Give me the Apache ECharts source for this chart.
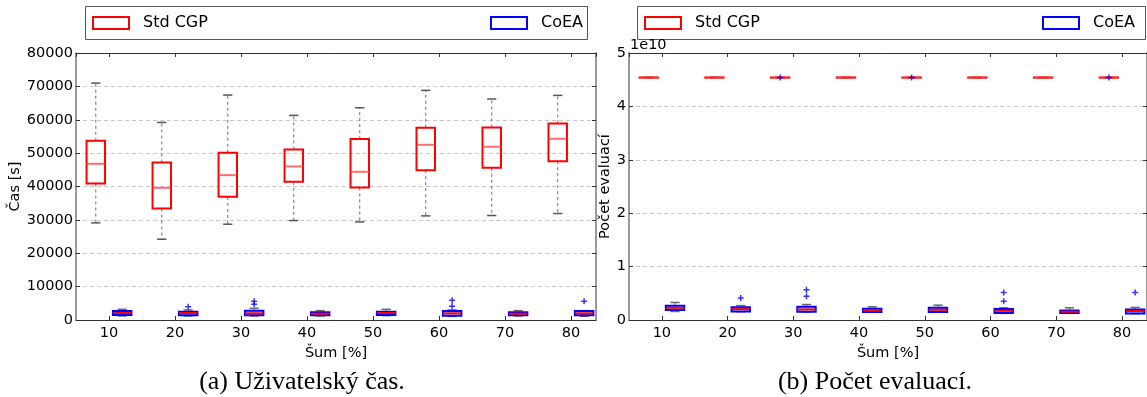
<!DOCTYPE html>
<html>
<head>
<meta charset="utf-8">
<script src="https://cdn.jsdelivr.net/npm/echarts@6/dist/echarts.min.js"></script>
<style>
  html, body { margin: 0; padding: 0; background: #fff; }
  #chart { width: 1147px; height: 397px; }
</style>
</head>
<body>
<div id="chart"></div>
<script>
// Noise levels [%] on the x axis
const noiseLevels = [10, 20, 30, 40, 50, 60, 70, 80];

// User time [s], five-number summaries: [min, Q1, median, Q3, max]
const timeStdCgp = [
  [29100, 40900, 46800, 53700, 71000],
  [24200, 33400, 39600, 47200, 59200],
  [28700, 36900, 43400, 50100, 67400],
  [29800, 41400, 46000, 51100, 61300],
  [29400, 39700, 44400, 54200, 63600],
  [31200, 44900, 52500, 57600, 68800],
  [31300, 45600, 51900, 57700, 66200],
  [31900, 47600, 54300, 58900, 67300]
];
const timeCoea = [
  [1200, 1500, 2100, 2700, 3200],
  [1200, 1400, 2100, 2500, 3000],
  [1200, 1400, 2000, 2800, 3500],
  [1200, 1400, 1900, 2300, 2800],
  [1300, 1500, 2100, 2500, 3200],
  [1100, 1300, 2000, 2700, 3000],
  [1200, 1400, 1900, 2300, 2800],
  [1100, 1400, 2000, 2700, 2800]
];
// Outliers as [noise level, value]
const timeCoeaOutliers = [[20, 4000], [30, 4700], [30, 5600], [60, 4100], [60, 5900], [80, 5600]];

// Number of evaluations, five-number summaries
const evalStdCgp = [
  [4.535e10, 4.539e10, 4.54e10, 4.541e10, 4.545e10],
  [4.535e10, 4.539e10, 4.54e10, 4.541e10, 4.545e10],
  [4.535e10, 4.539e10, 4.54e10, 4.541e10, 4.545e10],
  [4.535e10, 4.539e10, 4.54e10, 4.541e10, 4.545e10],
  [4.535e10, 4.539e10, 4.54e10, 4.541e10, 4.545e10],
  [4.535e10, 4.539e10, 4.54e10, 4.541e10, 4.545e10],
  [4.535e10, 4.539e10, 4.54e10, 4.541e10, 4.545e10],
  [4.535e10, 4.539e10, 4.54e10, 4.541e10, 4.545e10]
];
const evalStdCgpOutliers = [[30, 4.54e10], [50, 4.54e10], [80, 4.54e10]];
const evalCoea = [
  [1.60e9, 1.85e9, 2.28e9, 2.65e9, 3.28e9],
  [1.55e9, 1.60e9, 2.04e9, 2.40e9, 2.70e9],
  [1.50e9, 1.54e9, 1.98e9, 2.47e9, 2.90e9],
  [1.45e9, 1.48e9, 1.79e9, 2.10e9, 2.47e9],
  [1.45e9, 1.48e9, 1.91e9, 2.28e9, 2.78e9],
  [1.25e9, 1.30e9, 1.72e9, 2.04e9, 2.28e9],
  [1.25e9, 1.30e9, 1.55e9, 1.80e9, 2.28e9],
  [1.20e9, 1.24e9, 1.68e9, 1.98e9, 2.35e9]
];
const evalCoeaOutliers = [[20, 4.1e9], [30, 4.44e9], [30, 5.68e9], [60, 3.52e9], [60, 5.13e9], [80, 5.13e9]];

// Layout of a group: Std CGP box left of the tick, CoEA box right of it
const GROUP_SHIFT = 2;
const BOX_WIDTH = 2.8;
const RED = '#ff0000';
const BLUE = '#0000ff';
const SANS = 'DejaVu Sans';

function withPositions(stats, shift) {
  return stats.map((s, i) => [noiseLevels[i] + shift].concat(s));
}
function shiftPoints(points, shift) {
  return points.map(p => [p[0] + shift, p[1]]);
}

function boxRenderer(look) {
  return function (params, api) {
    const x = api.value(0);
    const v = [1, 2, 3, 4, 5].map(i => api.value(i));
    const half = api.size([BOX_WIDTH, 0])[0] / 2;
    const capHalf = half / 2;
    const cx = api.coord([x, v[0]])[0];
    const y = v.map(val => api.coord([x, val])[1]);
    const whiskerStyle = { stroke: look.whisker, lineWidth: 1, lineDash: [3, 3] };
    const capStyle = { stroke: look.cap, lineWidth: 1.5 };
    return {
      type: 'group',
      children: [
        { type: 'line', shape: { x1: cx, y1: y[3], x2: cx, y2: y[4] }, style: whiskerStyle },
        { type: 'line', shape: { x1: cx, y1: y[1], x2: cx, y2: y[0] }, style: whiskerStyle },
        { type: 'line', shape: { x1: cx - capHalf, y1: y[4], x2: cx + capHalf, y2: y[4] }, style: capStyle },
        { type: 'line', shape: { x1: cx - capHalf, y1: y[0], x2: cx + capHalf, y2: y[0] }, style: capStyle },
        { type: 'rect', shape: { x: cx - half, y: y[3], width: half * 2, height: y[1] - y[3] },
          style: { fill: look.fill, stroke: look.box, lineWidth: 2 } },
        { type: 'line', shape: { x1: cx - half, y1: y[2], x2: cx + half, y2: y[2] },
          style: { stroke: look.median, lineWidth: 2 } }
      ]
    };
  };
}

const cgpLook = { box: RED, median: 'rgba(255,60,60,0.75)', whisker: '#5c5cff', cap: '#555', fill: 'none' };
const coeaLook = { box: BLUE, median: RED, whisker: '#5c5cff', cap: '#666', fill: 'rgba(150,150,255,0.5)' };

const PLUS = 'path://M1.5,0H2.5V1.5H4V2.5H2.5V4H1.5V2.5H0V1.5H1.5Z';

function boxSeries(name, idx, stats, shift, look) {
  return {
    name: name, type: 'custom', xAxisIndex: idx * 2, yAxisIndex: idx * 2,
    renderItem: boxRenderer(look),
    encode: { x: 0, y: [1, 2, 3, 4, 5] },
    data: withPositions(stats, shift),
    z: look.box === BLUE ? 3 : 2,
    silent: true
  };
}
function outlierSeries(name, idx, points, shift) {
  return {
    name: name, type: 'scatter', xAxisIndex: idx * 2, yAxisIndex: idx * 2,
    symbol: PLUS, symbolSize: 6, itemStyle: { color: BLUE },
    data: shiftPoints(points, shift), z: 5, silent: true
  };
}

const grids = [
  { left: 76, right: 551, top: 53, bottom: 77 },
  { left: 629, right: -3, top: 53, bottom: 77 }
];

function xAxes(gi) {
  const base = {
    type: 'value', gridIndex: gi, min: 5, max: 83.8, splitNumber: 8,
    splitLine: { show: false },
    axisLine: { onZero: false, lineStyle: { color: '#333', width: 1 } },
    axisTick: { show: true, inside: true, length: 4, lineStyle: { color: '#333' } }
  };
  return [
    Object.assign({}, base, {
      position: 'bottom',
      name: 'Šum [%]', nameLocation: 'middle', nameGap: 20,
      nameTextStyle: { fontFamily: SANS, fontSize: 14.5, color: '#000' },
      axisLabel: {
        fontFamily: SANS, fontSize: 14.5, color: '#000', margin: 6,
        showMinLabel: false, showMaxLabel: false,
        formatter: v => (Math.abs(v % 10) < 1e-6 ? String(v) : '')
      }
    }),
    Object.assign({}, base, { position: 'top', axisLabel: { show: false } })
  ];
}

function yAxes(gi, max, interval, title, nameGap, fmt) {
  return [
    {
      type: 'value', gridIndex: gi, position: 'left', min: 0, max: max, interval: interval,
      name: title, nameLocation: 'middle', nameGap: nameGap,
      nameTextStyle: { fontFamily: SANS, fontSize: 14.5, color: '#000' },
      axisLine: { show: true, lineStyle: { color: '#999', width: 2 } },
      axisTick: { show: true, inside: true, length: 4, lineStyle: { color: '#333' } },
      axisLabel: { fontFamily: SANS, fontSize: 14.5, color: '#000', margin: 3, formatter: fmt },
      splitLine: { show: true, lineStyle: { color: '#c8c8c8', width: 1, type: [4, 3] } }
    },
    {
      type: 'value', gridIndex: gi, position: 'right', min: 0, max: max, interval: interval,
      axisLine: { show: true, lineStyle: { color: '#999', width: 2 } },
      axisTick: { show: true, inside: true, length: 4, lineStyle: { color: '#333' } },
      axisLabel: { show: false }, splitLine: { show: false }
    }
  ];
}

const leftY = yAxes(0, 80000, 10000, 'Čas [s]', 49, v => String(v));
const rightY = yAxes(1, 5e10, 1e10, 'Počet evaluací', 11, v => String(Math.round(v / 1e10)));

const legendText = { fontFamily: SANS, fontSize: 16, color: '#000', padding: [0, 0, 0, 9] };
function legendItem(name, color, pos) {
  return Object.assign({
    top: 15, itemWidth: 36, itemHeight: 12, selectedMode: false, padding: 0,
    textStyle: legendText,
    data: [{ name: name, icon: 'rect',
      itemStyle: { color: 'rgba(0,0,0,0)', borderColor: color, borderWidth: 2 } }]
  }, pos);
}

const chart = echarts.init(document.getElementById('chart'), null, { renderer: 'canvas' });
chart.setOption({
  animation: false,
  backgroundColor: '#fff',
  grid: grids,
  xAxis: xAxes(0).concat(xAxes(1)),
  yAxis: leftY.concat(rightY),
  legend: [
    legendItem('Std CGP', RED, { left: 92 }),
    legendItem('CoEA', BLUE, { right: 564 }),
    legendItem('Std CGP', RED, { left: 644 }),
    legendItem('CoEA', BLUE, { right: 12 })
  ],
  graphic: [
    { type: 'rect', shape: { x: 85.5, y: 6.5, width: 502, height: 33 },
      style: { fill: 'none', stroke: '#555', lineWidth: 1 } },
    { type: 'rect', shape: { x: 637.5, y: 6.5, width: 508, height: 33 },
      style: { fill: 'none', stroke: '#555', lineWidth: 1 } },
    // offset text of the scaled y axis
    { type: 'text', left: 630, top: 38,
      style: { text: '1e10', font: '14.5px "DejaVu Sans"', fill: '#000' } },
    { type: 'text', x: 302, y: 382,
      style: { text: '(a) Uživatelský čas.', font: '26px "Liberation Serif"', fill: '#000',
        textAlign: 'center', textVerticalAlign: 'middle' } },
    { type: 'text', x: 875, y: 382,
      style: { text: '(b) Počet evaluací.', font: '26px "Liberation Serif"', fill: '#000',
        textAlign: 'center', textVerticalAlign: 'middle' } }
  ],
  series: [
    boxSeries('Std CGP', 0, timeStdCgp, -GROUP_SHIFT, cgpLook),
    boxSeries('CoEA', 0, timeCoea, GROUP_SHIFT, coeaLook),
    outlierSeries('CoEA outliers', 0, timeCoeaOutliers, GROUP_SHIFT),
    boxSeries('Std CGP', 1, evalStdCgp, -GROUP_SHIFT, cgpLook),
    boxSeries('CoEA', 1, evalCoea, GROUP_SHIFT, coeaLook),
    outlierSeries('Std CGP outliers', 1, evalStdCgpOutliers, -GROUP_SHIFT),
    outlierSeries('CoEA outliers', 1, evalCoeaOutliers, GROUP_SHIFT)
  ]
});
</script>
</body>
</html>
